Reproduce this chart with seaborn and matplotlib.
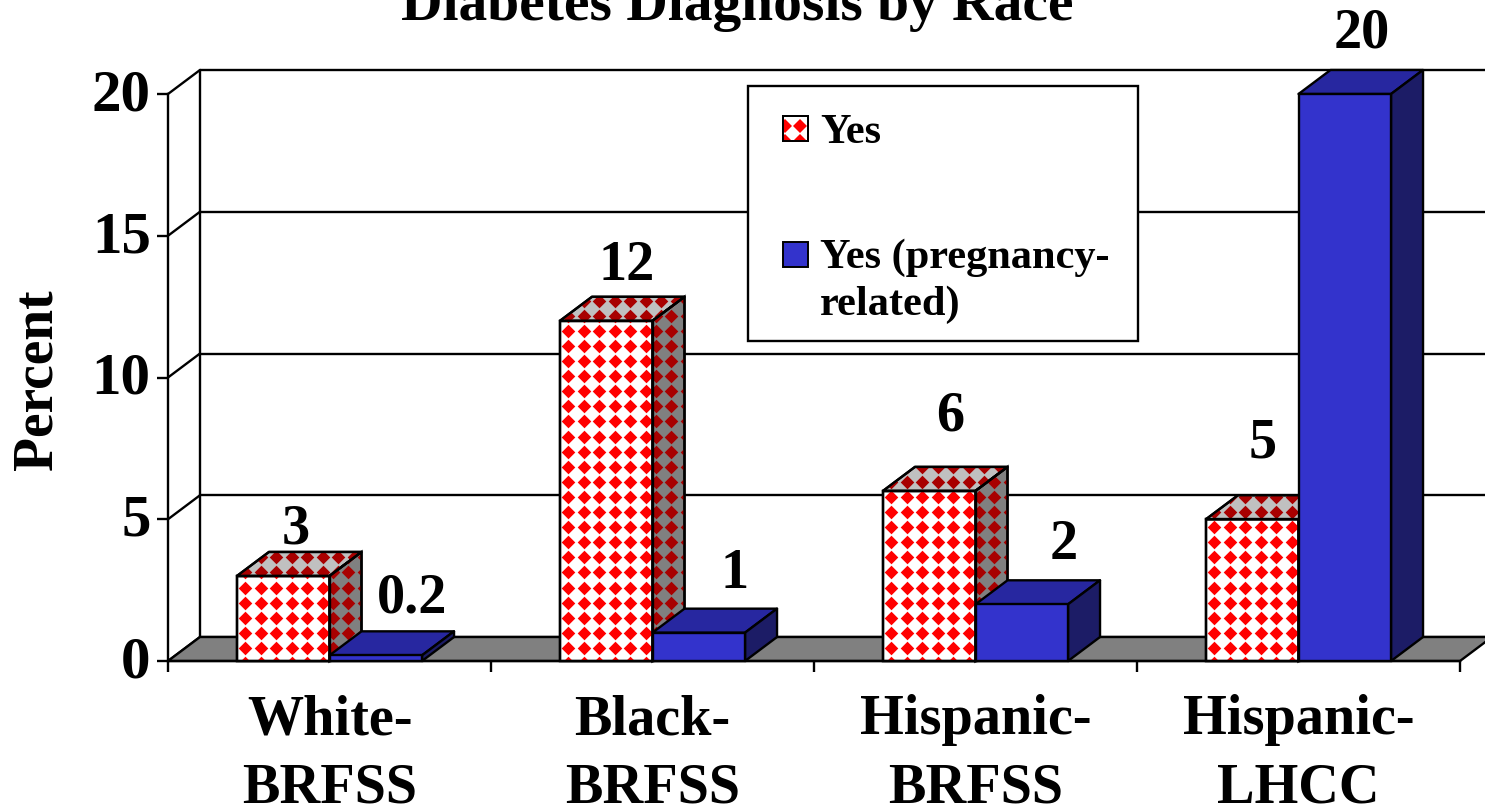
import numpy as np
import pandas as pd
import matplotlib
matplotlib.use("Agg")
import matplotlib.pyplot as plt
from matplotlib.lines import Line2D
from matplotlib.patches import Patch, Polygon, Rectangle
from matplotlib.transforms import Affine2D, ScaledTranslation
import seaborn as sns

# ---- data ----
categories = ["White-\nBRFSS", "Black-\nBRFSS", "Hispanic-\nBRFSS", "Hispanic-\nLHCC"]
series_names = ["Yes", "Yes (pregnancy-\nrelated)"]
yes_values = [3, 12, 6, 5]
pregnancy_values = [0.2, 1, 2, 20]
yes_labels = ["3", "12", "6", "5"]
pregnancy_labels = ["0.2", "1", "2", "20"]
y_ticks = [0, 5, 10, 15, 20]

# ---- style ----
sns.set_style("white")
plt.rcParams["font.family"] = ["Liberation Serif", "DejaVu Serif"]
plt.rcParams["font.weight"] = "bold"
for key in ["text.color", "axes.labelcolor", "xtick.color", "ytick.color", "axes.edgecolor"]:
    plt.rcParams[key] = "black"
W, H = 1485, 809
FS = 40.5
LW = 1.7
BLUE, BLUE_SIDE, BLUE_TOP = "#3333CC", "#1C1C66", "#2727A0"
RED, DARK_RED = "#FF0000", "#A80000"
GREY_SIDE, GREY_TOP, FLOOR = "#808080", "#C0C0C0", "#808080"

# nudges of the value labels, in pixels (right, up) from the top-centre of each bar
yes_nudge = [(12.5, 32), (20, 41), (21, 60), (10, 62)]
preg_nudge = [(36, 43), (36, 45), (42, 45), (17, 46)]

fig = plt.figure(figsize=(W / 100, H / 100), dpi=100, facecolor="white")
ax = fig.add_axes([168 / W, (H - 661) / H, (1460 - 168) / W, (661 - 94) / H])

df = pd.DataFrame({
    "category": categories * 2,
    "series": [series_names[0]] * 4 + [series_names[1]] * 4,
    "value": yes_values + pregnancy_values,
})
sns.barplot(data=df, x="category", y="value", hue="series", order=categories,
            hue_order=series_names, palette=["white", BLUE], width=0.573, gap=0,
            errorbar=None, edgecolor="black", linewidth=LW, saturation=1,
            legend=False, ax=ax)
ax.set_xlim(-0.5, 3.5)
ax.set_ylim(0, 20)
ax.autoscale(False)

px_x = 4 / (1460 - 168)
px_y = 20 / (661 - 94)
DX, DY = 32 * px_x, 24 * px_y
x0, x1 = ax.get_xlim()


def face(verts, color, z):
    p = Polygon(verts, closed=True, facecolor=color, edgecolor="black", linewidth=LW,
                joinstyle="round", clip_on=False, zorder=z)
    ax.add_patch(p)
    return p


def diamonds(clip_patch, left, right, top, color, z):
    xs = np.arange(left, right + 20 * px_x, 15.5 * px_x)
    ys = np.arange(-2 * px_y, top + 20 * px_y, 15.1 * px_y)
    gx, gy = np.meshgrid(xs, ys)
    sc = ax.scatter(gx.ravel(), gy.ravel(), marker="D", s=48, color=color, linewidths=0,
                    zorder=z)
    sc.set_clip_path(clip_patch)
    sc.set_clip_box(None)


def outline(verts, z):
    p = Polygon(verts, closed=True, fill=False, edgecolor="black", linewidth=LW,
                clip_on=False, zorder=z)
    ax.add_patch(p)
    return p


# back wall, side wall, floor
for v in y_ticks:
    ax.plot([x0 + DX, x1 + DX], [v + DY, v + DY], color="black", lw=LW, clip_on=False, zorder=1)
    ax.plot([x0, x0 + DX], [v, v + DY], color="black", lw=LW, clip_on=False, zorder=1)
ax.plot([x0 + DX, x0 + DX], [DY, 20 + DY], color="black", lw=LW, clip_on=False, zorder=1)
face([(x0, 0), (x0 + DX, DY), (x1 + DX, DY), (x1, 0)], FLOOR, 1.5)

# textured "Yes" bars
for bar in ax.containers[0]:
    a, b = bar.get_x(), bar.get_x() + bar.get_width()
    h = bar.get_height()
    bar.set_clip_on(False)
    bar.set_zorder(3)
    top = [(a, h), (a + DX, h + DY), (b + DX, h + DY), (b, h)]
    side = [(b, 0), (b, h), (b + DX, h + DY), (b + DX, DY)]
    front = [(a, 0), (a, h), (b, h), (b, 0)]
    diamonds(face(top, GREY_TOP, 3), a + 8.5 * px_x, b + DX, h + DY, DARK_RED, 3.1)
    diamonds(face(side, GREY_SIDE, 3), b + 3 * px_x, b + DX, h + DY, DARK_RED, 3.1)
    diamonds(outline(front, 3.2), a + 8.5 * px_x, b, h, RED, 3.1)
    outline(top, 3.2)
    outline(side, 3.2)

# solid pregnancy-related bars
for bar in ax.containers[1]:
    a, b = bar.get_x(), bar.get_x() + bar.get_width()
    h = bar.get_height()
    bar.set_clip_on(False)
    bar.set_zorder(4)
    face([(a, h), (a + DX, h + DY), (b + DX, h + DY), (b, h)], BLUE_TOP, 3.9)
    face([(b, 0), (b, h), (b + DX, h + DY), (b + DX, DY)], BLUE_SIDE, 3.9)

# value labels
for cont, texts, nudges in [(ax.containers[0], yes_labels, yes_nudge),
                            (ax.containers[1], pregnancy_labels, preg_nudge)]:
    for bar, t, (nx, ny) in zip(cont, texts, nudges):
        ax.annotate(t, (bar.get_x() + bar.get_width() / 2, bar.get_height()),
                    xytext=(nx * 0.72, ny * 0.72), textcoords="offset points",
                    ha="center", va="baseline", fontsize=FS, fontweight="bold",
                    annotation_clip=False, zorder=6)

# axes furniture
for s in ["top", "right"]:
    ax.spines[s].set_visible(False)
for s in ["left", "bottom"]:
    ax.spines[s].set_linewidth(LW)
    ax.spines[s].set_zorder(2)
ax.set_yticks(y_ticks)
ax.set_xticks(range(4))
ax.set_xticklabels(categories, fontsize=FS, fontweight="bold", linespacing=1.41)
ax.set_xticks([-0.5, 0.5, 1.5, 2.5, 3.5], minor=True)
ax.tick_params(axis="x", which="major", length=0, pad=24)
ax.tick_params(axis="x", which="minor", length=8, width=LW, bottom=True, color="black")
ax.tick_params(axis="y", left=True, length=8, width=LW, pad=4.5, labelsize=42.5, color="black")
shift_up = ScaledTranslation(0, 4 / 100, fig.dpi_scale_trans)
for lab in ax.get_yticklabels():
    lab.set_transform(lab.get_transform() + shift_up)
ax.set_xlabel("")
ax.set_ylabel("Percent", fontsize=40, fontweight="bold")
ax.yaxis.set_label_coords((64 - 168) / (1460 - 168), (661 - 380) / (661 - 94))
ax.set_title("Diabetes Diagnosis by Race", fontsize=41.4, fontweight="bold",
             x=(737 - 168) / (1460 - 168), y=1.0, pad=53)


class Swatch:
    def __init__(self, color, shift, pattern=False):
        self.color, self.shift, self.pattern = color, shift, pattern

    def legend_artist(self, legend, orig_handle, fontsize, handlebox):
        w, h = 18, 18
        y = self.shift
        rect = Rectangle((0, y), w, h, facecolor=self.color, edgecolor="black", linewidth=1.4)
        handlebox.add_artist(rect)
        if self.pattern:
            dots = Line2D([1.5, 12.5, 1.5, 12.5], [y + 11, y + 11, y, y], linestyle="none",
                          marker="D", markersize=7, markerfacecolor=RED, markeredgewidth=0)
            handlebox.add_artist(dots)
            dots.set_clip_path(rect)
            edge = Rectangle((0, y), w, h, fill=False, edgecolor="black", linewidth=1.4)
            handlebox.add_artist(edge)
        return rect


# legend box (placed in image pixels), then its entries
image_px = Affine2D().scale(1 / W, -1 / H).translate(0, 1) + fig.transFigure
ax.add_patch(Rectangle((748, 86), 390, 255, transform=image_px, facecolor="white",
                       edgecolor="black", linewidth=LW, clip_on=False, zorder=2.5))
h_yes, h_preg = Patch(label=series_names[0]), Patch(label=series_names[1])
leg = ax.legend(handles=[h_yes, h_preg], loc="upper left",
                bbox_to_anchor=((783 - 168) / (1460 - 168), (661 - 114) / (661 - 94)),
                borderaxespad=0, borderpad=0, fontsize=30.5, frameon=False,
                labelspacing=2.05, handlelength=0.59, handleheight=0.6,
                handletextpad=0.28,
                handler_map={h_yes: Swatch("white", 1.5, True), h_preg: Swatch(BLUE, 21)})
leg.set_zorder(5)
for t in leg.get_texts():
    t.set_fontweight("bold")
    t.set_linespacing(1.28)

fig.savefig("out.png", dpi=100, facecolor="white")
